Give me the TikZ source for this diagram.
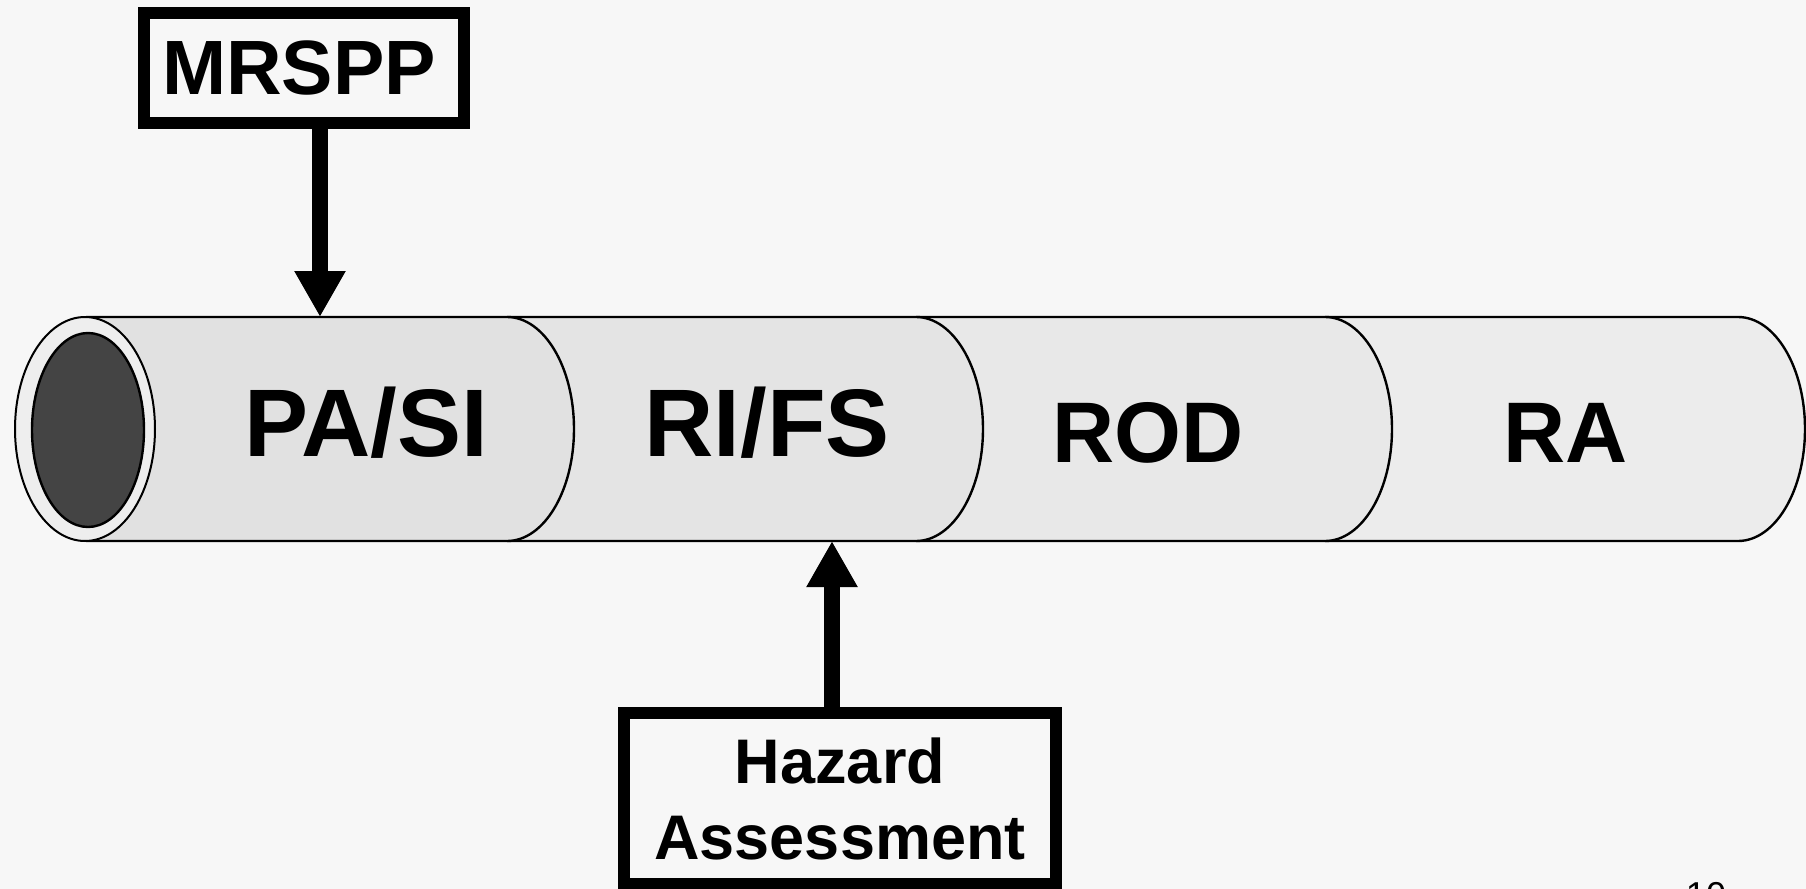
\documentclass[tikz,border=0pt]{standalone}
\usepackage{fontspec}
\setmainfont{Liberation Sans}
\usetikzlibrary{arrows.meta}

\definecolor{pagebg}{RGB}{247,247,247}
\definecolor{segA}{RGB}{225,225,225}
\definecolor{segB}{RGB}{228,228,228}
\definecolor{segC}{RGB}{232,232,232}
\definecolor{segD}{RGB}{236,236,236}
\definecolor{rimgray}{RGB}{238,238,238}
\definecolor{boregray}{RGB}{68,68,68}

\tikzset{every picture/.style={line width=0.75pt}}
\tikzset{
	inbox/.style={draw, line width=6pt, inner sep=0pt, font=\bfseries},
	feed/.style={line width=8pt, -{Triangle[width=24pt,length=23pt]}},
	stage/.style={anchor=base, inner sep=0pt, font=\bfseries},
	tubeline/.style={line width=1.2pt}}

\begin{document}
\begin{tikzpicture}[x=0.5pt,y=0.5pt,yscale=-1,xscale=1]
	%Shape: Rectangle (page)
	\fill[pagebg] (0,0) rectangle (1806,889);
	\useasboundingbox (0,0) rectangle (1806,889);

	%Shape: Tube segments, right one first so each bulge lies over the next
	\foreach \a/\b/\s in {1325/1738/segD, 916/1325/segC, 507/916/segB, 86/507/segA}{
		\fill[\s] (\a,317) -- (\b,317) arc[start angle=-90, end angle=90, x radius=67, y radius=112] -- (\a,541) -- cycle;
		\draw[tubeline] (\a,317) -- (\b,317) arc[start angle=-90, end angle=90, x radius=67, y radius=112] -- (\a,541);
	}
	%Shape: Ellipse (open end)
	\draw[fill=rimgray, line width=1pt] (85,429) ellipse[x radius=70, y radius=112];
	\draw[fill=boregray, line width=1.2pt] (88,430) ellipse[x radius=56, y radius=97];

	% Text Node
	\node[stage, font=\bfseries\fontsize{48}{58}\selectfont] (pasi) at (366,456) {PA/SI};
	% Text Node
	\node[stage, font=\bfseries\fontsize{48}{58}\selectfont] (rifs) at (767,456) {RI/FS};
	% Text Node
	\node[stage, font=\bfseries\fontsize{43}{52}\selectfont] (rod) at (1148,462) {ROD};
	% Text Node
	\node[stage, font=\bfseries\fontsize{43}{52}\selectfont] (ra) at (1566,462) {RA};

	%Shape: Rectangle
	\node[inbox, minimum width=160pt, minimum height=55pt, text width=142pt, align=left,
		font=\bfseries\fontsize{38.5}{46}\selectfont] (mrspp) at (304,68) {MRSPP};
	%Shape: Rectangle
	\node[inbox, minimum width=216pt, minimum height=85.5pt, align=center,
		font=\bfseries\fontsize{31.5}{38}\selectfont] (hazard) at (840,798.5) {Hazard\\Assessment};

	%Straight Lines
	\coordinate (in1) at (320,317);
	\coordinate (in2) at (832,541);
	\draw[feed] (in1 |- mrspp.south) -- (in1);
	\draw[feed] (in2 |- hazard.north) -- (in2);

	% Text Node
	\node[anchor=north, inner sep=0pt, font=\fontsize{18}{22}\selectfont] (pagenum) at (1706,882) {10};
\end{tikzpicture}
\end{document}
